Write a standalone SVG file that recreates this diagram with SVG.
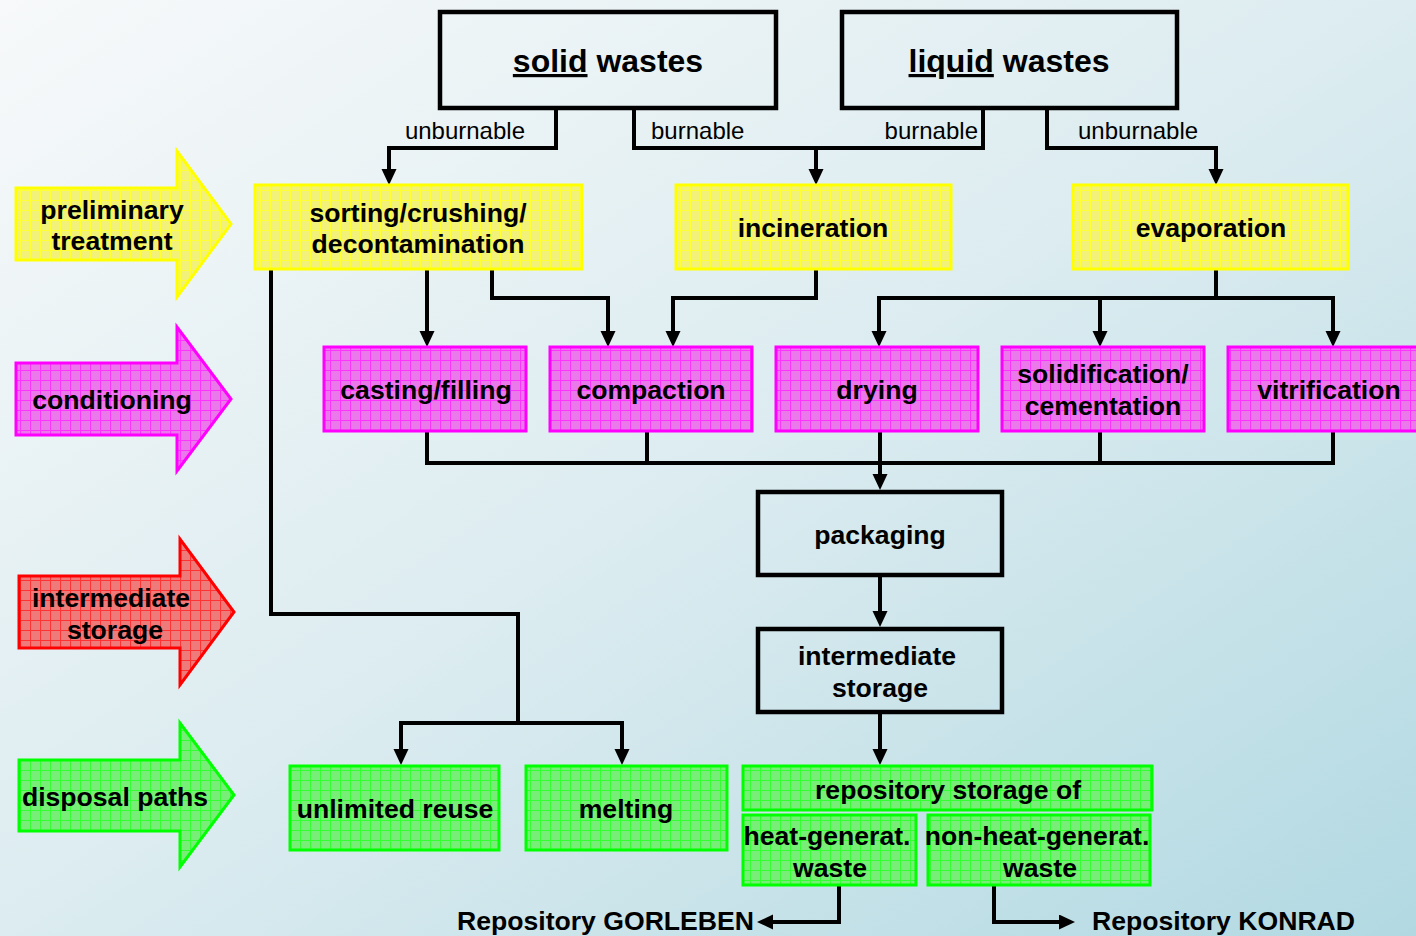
<svg xmlns="http://www.w3.org/2000/svg" width="1416" height="936" viewBox="0 0 1416 936">
<defs>
  <linearGradient id="bg" x1="0" y1="0" x2="1" y2="1">
    <stop offset="0" stop-color="#f7f9fa"/>
    <stop offset="0.5" stop-color="#dcecf0"/>
    <stop offset="1" stop-color="#b2d9e2"/>
  </linearGradient>
  <pattern id="gy" width="10" height="10" patternUnits="userSpaceOnUse">
    <rect width="10" height="10" fill="#f2f27a"/>
    <path d="M0,0.5H10M0.5,0V10" stroke="#ffff33" stroke-width="1"/>
  </pattern>
  <pattern id="gm" width="10" height="10" patternUnits="userSpaceOnUse">
    <rect width="10" height="10" fill="#ea7aea"/>
    <path d="M0,0.5H10M0.5,0V10" stroke="#ff33ff" stroke-width="1"/>
  </pattern>
  <pattern id="gg" width="10" height="10" patternUnits="userSpaceOnUse">
    <rect width="10" height="10" fill="#78ee78"/>
    <path d="M0,0.5H10M0.5,0V10" stroke="#33ff33" stroke-width="1"/>
  </pattern>
  <pattern id="gr" width="10" height="10" patternUnits="userSpaceOnUse">
    <rect width="10" height="10" fill="#ee7a7a"/>
    <path d="M0,0.5H10M0.5,0V10" stroke="#ff3333" stroke-width="1"/>
  </pattern>
  <marker id="ah" markerUnits="userSpaceOnUse" markerWidth="18" markerHeight="16" refX="10" refY="7.5" orient="auto">
    <path d="M0,0 L16,7.5 L0,15 z" fill="#000"/>
  </marker>
</defs>
<style>
  .t{font-family:"Liberation Sans",Arial,sans-serif;font-weight:bold;font-size:26.6px;text-anchor:middle;fill:#000}
  .h{font-size:32px}
  .l{font-family:"Liberation Sans",Arial,sans-serif;font-size:24px;fill:#000}
  .bk{fill:none;stroke:#000;stroke-width:4.5}
  .y{fill:url(#gy);stroke:#ffff00;stroke-width:3}
  .m{fill:url(#gm);stroke:#ff00ff;stroke-width:3}
  .g{fill:url(#gg);stroke:#00ff00;stroke-width:3}
  .r{fill:url(#gr);stroke:#ff0000;stroke-width:3}
  .c{fill:none;stroke:#000;stroke-width:4;stroke-linejoin:miter}
  .a{marker-end:url(#ah)}
</style>
<rect width="1416" height="936" fill="url(#bg)"/>

<g id="connectors">
  <path class="c" d="M556,108 V148 H389 V179"/>
  <path class="c" d="M634,108 V148 H983 V108"/>
  <path class="c" d="M816,148 V179"/>
  <path class="c" d="M1047,108 V148 H1216 V179"/>
  <path class="c" d="M427,269 V341"/>
  <path class="c" d="M492,269 V298 H608 V341"/>
  <path class="c" d="M816,269 V298 H673 V341"/>
  <path class="c" d="M1216,269 V298"/>
  <path class="c" d="M879,341 V298 H1333 V341"/>
  <path class="c" d="M1100,298 V341"/>
  <path class="c" d="M271,269 V614 H518 V723"/>
  <path class="c" d="M401,760 V723 H622 V760"/>
  <path class="c" d="M427,431 V463 H1333 V431"/>
  <path class="c" d="M647,431 V463"/>
  <path class="c" d="M1100,431 V463"/>
  <path class="c" d="M880,431 V484"/>
  <path class="c" d="M880,576 V621"/>
  <path class="c" d="M880,713 V759"/>
  <path class="c" d="M839,886 V922 H763"/>
  <path class="c" d="M994,886 V922 H1069"/>
  <g class="a">
    <path class="c" d="M389,170 V179"/>
    <path class="c" d="M816,170 V179"/>
    <path class="c" d="M1216,170 V179"/>
    <path class="c" d="M427,332 V341"/>
    <path class="c" d="M608,332 V341"/>
    <path class="c" d="M673,332 V341"/>
    <path class="c" d="M879,332 V341"/>
    <path class="c" d="M1100,332 V341"/>
    <path class="c" d="M1333,332 V341"/>
    <path class="c" d="M880,475 V484"/>
    <path class="c" d="M880,612 V621"/>
    <path class="c" d="M880,750 V759"/>
    <path class="c" d="M401,750 V759"/>
    <path class="c" d="M622,750 V759"/>
    <path class="c" d="M772,922 H763"/>
    <path class="c" d="M1060,922 H1069"/>
  </g>
  <text class="l" x="525" y="139" text-anchor="end">unburnable</text>
  <text class="l" x="651" y="139">burnable</text>
  <text class="l" x="978" y="139" text-anchor="end">burnable</text>
  <text class="l" x="1078" y="139">unburnable</text>
</g>

<g id="solid-wastes">
  <rect class="bk" x="440" y="12" width="336" height="96"/>
  <text class="t h" x="608" y="72"><tspan text-decoration="underline">solid</tspan> wastes</text>
</g>
<g id="liquid-wastes">
  <rect class="bk" x="842" y="12" width="335" height="96"/>
  <text class="t h" x="1009" y="72"><tspan text-decoration="underline">liquid</tspan> wastes</text>
</g>

<g id="arrow-preliminary">
  <polygon class="y" points="16,188 177,188 177,151 231,224 177,297 177,260 16,260"/>
  <text class="t" x="112" y="219">preliminary</text>
  <text class="t" x="112" y="250">treatment</text>
</g>
<g id="arrow-conditioning">
  <polygon class="m" points="16,363 177,363 177,327 231,399 177,471 177,435 16,435"/>
  <text class="t" x="112" y="409">conditioning</text>
</g>
<g id="arrow-intermediate">
  <polygon class="r" points="19,576 180,576 180,539 234,612 180,685 180,648 19,648"/>
  <text class="t" x="111" y="607">intermediate</text>
  <text class="t" x="115" y="639">storage</text>
</g>
<g id="arrow-disposal">
  <polygon class="g" points="19,760 180,760 180,723 234,795 180,867 180,831 19,831"/>
  <text class="t" x="115" y="806">disposal paths</text>
</g>

<g id="sorting">
  <rect class="y" x="255" y="185" width="327" height="84"/>
  <text class="t" x="418" y="222">sorting/crushing/</text>
  <text class="t" x="418" y="253">decontamination</text>
</g>
<g id="incineration">
  <rect class="y" x="676" y="185" width="275" height="84"/>
  <text class="t" x="813" y="237">incineration</text>
</g>
<g id="evaporation">
  <rect class="y" x="1073" y="185" width="275" height="84"/>
  <text class="t" x="1211" y="237">evaporation</text>
</g>

<g id="casting">
  <rect class="m" x="324" y="347" width="202" height="84"/>
  <text class="t" x="426" y="399">casting/filling</text>
</g>
<g id="compaction">
  <rect class="m" x="550" y="347" width="202" height="84"/>
  <text class="t" x="651" y="399">compaction</text>
</g>
<g id="drying">
  <rect class="m" x="776" y="347" width="202" height="84"/>
  <text class="t" x="877" y="399">drying</text>
</g>
<g id="solidification">
  <rect class="m" x="1002" y="347" width="202" height="84"/>
  <text class="t" x="1103" y="383">solidification/</text>
  <text class="t" x="1103" y="415">cementation</text>
</g>
<g id="vitrification">
  <rect class="m" x="1228" y="347" width="202" height="84"/>
  <text class="t" x="1329" y="399">vitrification</text>
</g>

<g id="packaging">
  <rect class="bk" x="758" y="492" width="244" height="83"/>
  <text class="t" x="880" y="544">packaging</text>
</g>
<g id="intermediate-storage">
  <rect class="bk" x="758" y="629" width="244" height="83"/>
  <text class="t" x="877" y="665">intermediate</text>
  <text class="t" x="880" y="697">storage</text>
</g>

<g id="unlimited-reuse">
  <rect class="g" x="290" y="766" width="209" height="84"/>
  <text class="t" x="395" y="818">unlimited reuse</text>
</g>
<g id="melting">
  <rect class="g" x="526" y="766" width="201" height="84"/>
  <text class="t" x="626" y="818">melting</text>
</g>
<g id="repository-storage">
  <rect class="g" x="743" y="766" width="409" height="44"/>
  <text class="t" x="948" y="799">repository storage of</text>
</g>
<g id="heat-generating">
  <rect class="g" x="743" y="815" width="173" height="70"/>
  <text class="t" x="827" y="845">heat-generat.</text>
  <text class="t" x="830" y="877">waste</text>
</g>
<g id="non-heat-generating">
  <rect class="g" x="928" y="815" width="222" height="70"/>
  <text class="t" x="1037" y="845">non-heat-generat.</text>
  <text class="t" x="1040" y="877">waste</text>
</g>

<g id="gorleben">
  <text class="t" x="754" y="930" style="text-anchor:end">Repository GORLEBEN</text>
</g>
<g id="konrad">
  <text class="t" x="1092" y="930" style="text-anchor:start">Repository KONRAD</text>
</g>
</svg>
